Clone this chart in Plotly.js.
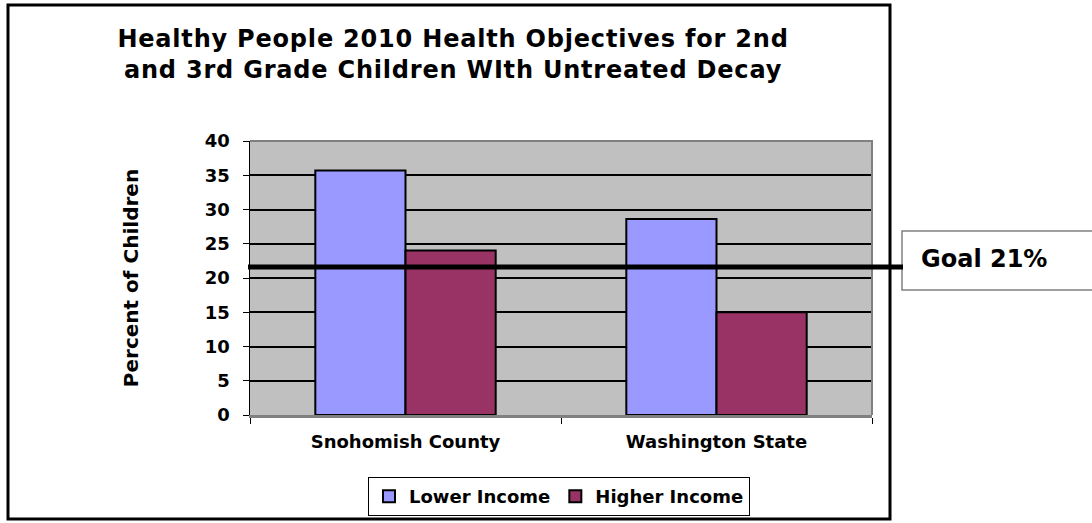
<!DOCTYPE html>
<html>
<head>
<meta charset="utf-8">
<script src="https://cdn.plot.ly/plotly-3.0.1.min.js"></script>
<style>
  html, body { margin: 0; padding: 0; background: #ffffff; }
  #chart { width: 1092px; height: 523px; }
  .gtitle { letter-spacing: 0.8px; }
</style>
</head>
<body>
<div id="chart"></div>
<script>
// ---- data ----
const categories = ["Snohomish County", "Washington State"];
const lowerIncome = [35.7, 28.6];
const higherIncome = [24.0, 15.0];
const seriesNames = ["Lower Income", "Higher Income"];
const goalLineLevel = 21.6;
const goalLabel = "Goal 21%";
const yTicks = [0, 5, 10, 15, 20, 25, 30, 35, 40];

// ---- layout geometry (pixels) ----
const W = 1092, H = 523;
const PL = 250, PR = 872, PT = 141, PB = 415;
const px2x = p => (p - PL) / (PR - PL);
const py2y = p => (PB - p) / (PB - PT);

const FONT = "DejaVu Sans, Verdana, sans-serif";

const traces = [
  {
    type: "bar", name: seriesNames[0], x: categories, y: lowerIncome,
    marker: { color: "#9999FF", line: { color: "#000000", width: 2 } },
    hoverinfo: "x+y+name"
  },
  {
    type: "bar", name: seriesNames[1], x: categories, y: higherIncome,
    marker: { color: "#993366", line: { color: "#000000", width: 2 } },
    hoverinfo: "x+y+name"
  }
];

const layout = {
  width: W, height: H,
  margin: { l: PL, r: W - PR, t: PT, b: H - PB, pad: 0, autoexpand: false },
  paper_bgcolor: "#ffffff",
  plot_bgcolor: "#C0C0C0",
  font: { family: FONT, color: "#000000", size: 18, weight: 700 },
  title: {
    text: "Healthy People 2010 Health Objectives for 2nd<br>and 3rd Grade Children WIth Untreated Decay",
    font: { family: FONT, size: 24, weight: 700, color: "#000000" },
    xref: "paper", x: px2x(453), xanchor: "center",
    yref: "container", y: 1 - 47 / H, yanchor: "top"
  },
  barmode: "group",
  bargap: 0.42,
  bargroupgap: 0,
  showlegend: true,
  legend: {
    orientation: "h",
    x: px2x(559), xanchor: "center",
    y: py2y(477), yanchor: "top",
    bgcolor: "#ffffff", bordercolor: "#000000", borderwidth: 1,
    font: { family: FONT, size: 18, weight: 700, color: "#000000" },
    itemwidth: 30, traceorder: "normal"
  },
  xaxis: {
    type: "category",
    categoryorder: "array", categoryarray: categories,
    showgrid: false, zeroline: false,
    showline: true, linecolor: "#808080", linewidth: 2.5,
    ticks: "outside", tickson: "boundaries", ticklen: 6, tickcolor: "#000000", tickwidth: 1,
    tickfont: { family: FONT, size: 18, weight: 700, color: "#000000" },
    ticklabelstandoff: 9,
    automargin: false,
    fixedrange: true
  },
  yaxis: {
    range: [0, 40],
    tickmode: "array", tickvals: yTicks, ticktext: yTicks.map(String),
    showgrid: true, gridcolor: "#000000", gridwidth: 2,
    zeroline: false,
    showline: true, linecolor: "#000000", linewidth: 1.5,
    ticks: "outside", ticklen: 6, tickcolor: "#000000", tickwidth: 1,
    tickfont: { family: FONT, size: 18, weight: 700, color: "#000000" },
    ticklabelstandoff: 9,
    title: {
      text: "Percent of Children",
      font: { family: FONT, size: 20, weight: 700, color: "#000000" },
      standoff: 61
    },
    automargin: false,
    fixedrange: true
  },
  shapes: [
    // outer chart frame
    { type: "rect", xref: "paper", yref: "paper",
      x0: px2x(8), x1: px2x(890), y0: py2y(519), y1: py2y(5),
      line: { color: "#000000", width: 3 }, fillcolor: "rgba(0,0,0,0)", layer: "below" },
    // plot area top/right border
    { type: "path", xref: "paper", yref: "paper",
      path: "M 0,1 L 1,1 L 1,0",
      line: { color: "#808080", width: 2 }, layer: "above" },
    // goal label box
    { type: "rect", xref: "paper", yref: "paper",
      x0: px2x(902), x1: px2x(1100), y0: py2y(290), y1: py2y(231),
      line: { color: "#808080", width: 1.5 }, fillcolor: "#ffffff", layer: "above" },
    // goal line
    { type: "line", xref: "paper", yref: "y",
      x0: px2x(248), x1: px2x(903), y0: goalLineLevel, y1: goalLineLevel,
      line: { color: "#000000", width: 5 }, layer: "above" }
  ],
  annotations: [
    { text: goalLabel, xref: "paper", yref: "paper",
      x: px2x(919), xanchor: "left", y: py2y(259), yanchor: "middle",
      showarrow: false,
      font: { family: FONT, size: 24, weight: 700, color: "#000000" } }
  ]
};

Plotly.newPlot("chart", traces, layout, { displayModeBar: false, staticPlot: true });
</script>
</body>
</html>
